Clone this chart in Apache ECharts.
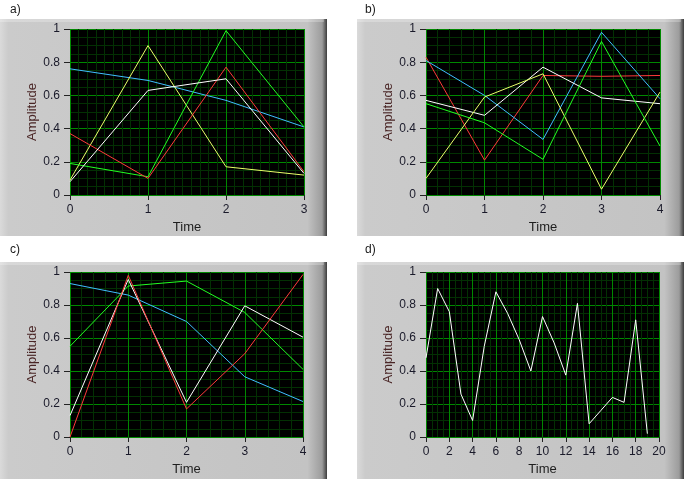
<!DOCTYPE html>
<html>
<head>
<meta charset="utf-8">
<script src="https://cdn.jsdelivr.net/npm/echarts@6/dist/echarts.min.js"></script>
<style>
	html, body { margin: 0; padding: 0; background: #fff; }
	#chart { width: 684px; height: 479px; }
</style>
</head>
<body>
<div id="chart"></div>
<script>
	// panel a) 4 points
	var timeA = [0, 1, 2, 3];
	var aBlue = [0.76, 0.69, 0.57, 0.41];
	var aYellow = [0.09, 0.9, 0.17, 0.12];
	var aGreen = [0.19, 0.11, 0.99, 0.41];
	var aRed = [0.37, 0.1, 0.77, 0.14];
	var aWhite = [0.08, 0.63, 0.7, 0.13];

	// panel b) 5 points
	var timeB = [0, 1, 2, 3, 4];
	var bRed = [0.83, 0.21, 0.72, 0.715, 0.72];
	var bBlue = [0.81, 0.6, 0.335, 0.98, 0.58];
	var bWhite = [0.57, 0.48, 0.77, 0.585, 0.55];
	var bYellow = [0.1, 0.59, 0.73, 0.035, 0.62];
	var bGreen = [0.55, 0.435, 0.215, 0.925, 0.295];

	// panel c) 5 points
	var timeC = [0, 1, 2, 3, 4];
	var cBlue = [0.93, 0.86, 0.7, 0.365, 0.215];
	var cGreen = [0.55, 0.915, 0.945, 0.755, 0.41];
	var cWhite = [0.13, 0.955, 0.21, 0.795, 0.605];
	var cRed = [0.0, 0.98, 0.17, 0.505, 0.985];

	// panel d) 20 points
	var timeD = [0, 1, 2, 3, 4, 5, 6, 7, 8, 9, 10, 11, 12, 13, 14, 15, 16, 17, 18, 19];
	var dWhite = [0.48, 0.9, 0.76, 0.26, 0.1, 0.55, 0.88, 0.75, 0.59, 0.4, 0.73, 0.57, 0.375, 0.81, 0.08, 0.16, 0.24, 0.21, 0.71, 0.02];

	var ampTicks = [0, 0.2, 0.4, 0.6, 0.8, 1];

	var colBlue = '#40bfff', colYellow = '#eaff6a', colGreen = '#22ff22', colRed = '#ff3a3a', colWhite = '#ffffff';
	var gridMajor = '#008800', gridMinor = '#033003';

	function pts(xs, ys) {
		return xs.map(function (x, i) { return [x, ys[i]]; });
	}

	var panels = [
		{ tag: 'a)', grid: { left: 70, top: 29, width: 234, height: 166 }, bez: [0, 19, 327, 217], lab: [10, 11], max: 3, step: 1, minor: 9,
			lines: [[aBlue, colBlue], [aYellow, colYellow], [aGreen, colGreen], [aRed, colRed], [aWhite, colWhite]], xs: timeA },
		{ tag: 'b)', grid: { left: 426, top: 29, width: 234, height: 166 }, bez: [357, 19, 327, 217], lab: [365, 11], max: 4, step: 1, minor: 5,
			lines: [[bRed, colRed], [bBlue, colBlue], [bWhite, colWhite], [bYellow, colYellow], [bGreen, colGreen]], xs: timeB },
		{ tag: 'c)', grid: { left: 70, top: 272, width: 233, height: 165 }, bez: [0, 262, 327, 217], lab: [10, 251], max: 4, step: 1, minor: 5,
			lines: [[cBlue, colBlue], [cGreen, colGreen], [cWhite, colWhite], [cRed, colRed]], xs: timeC },
		{ tag: 'd)', grid: { left: 426, top: 272, width: 233, height: 165 }, bez: [357, 262, 327, 217], lab: [365, 251], max: 20, step: 2, minor: 4,
			lines: [[dWhite, colWhite]], xs: timeD }
	];

	var font = 'Liberation Sans, Arial, sans-serif';
	var grids = [], xAxes = [], yAxes = [], series = [], graphics = [];

	panels.forEach(function (p, k) {
		// bezel
		graphics.push({
			type: 'rect', z: -10, silent: true,
			shape: { x: p.bez[0], y: p.bez[1], width: p.bez[2], height: p.bez[3] },
			style: {
				fill: new echarts.graphic.LinearGradient(0, 0, 1, 0, [
					{ offset: 0, color: '#dadada' },
					{ offset: 0.025, color: '#cbcbcb' },
					{ offset: 0.94, color: '#c3c3c3' },
					{ offset: 0.985, color: '#9c9c9c' },
					{ offset: 0.993, color: '#6a6a6a' },
					{ offset: 1, color: '#3c3c3c' }
				])
			}
		});
		graphics.push({
			type: 'rect', z: -9, silent: true,
			shape: { x: p.bez[0], y: p.bez[1], width: p.bez[2] - 3, height: 3 },
			style: { fill: 'rgba(255,255,255,0.25)' }
		});
		graphics.push({
			type: 'text', left: p.lab[0], top: p.lab[1] - 7, silent: true,
			style: { text: p.tag, fill: '#1a1a1a', font: '12px ' + font }
		});

		grids.push(Object.assign({ show: true, backgroundColor: '#000', borderWidth: 0 }, p.grid));

		xAxes.push({
			type: 'value', gridIndex: k, min: 0, max: p.max, interval: p.step,
			name: 'Time', nameLocation: 'middle', nameGap: 26,
			nameTextStyle: { color: '#1e1e1e', fontSize: 13, fontFamily: font },
			axisLine: { show: false },
			axisTick: { show: true, length: 5, lineStyle: { color: '#222' } },
			axisLabel: { color: '#1a1a2a', fontSize: 12, fontFamily: font, margin: 9 },
			splitLine: { show: true, lineStyle: { color: gridMajor, width: 1 } },
			minorTick: { show: false, splitNumber: p.minor },
			minorSplitLine: { show: true, lineStyle: { color: gridMinor, width: 1 } }
		});

		yAxes.push({
			type: 'value', gridIndex: k, min: ampTicks[0], max: ampTicks[ampTicks.length - 1], interval: 0.2,
			name: 'Amplitude', nameLocation: 'middle', nameGap: 27,
			nameTextStyle: { color: '#4a2626', fontSize: 13, fontFamily: font },
			axisLine: { show: false },
			axisTick: { show: true, length: 6, lineStyle: { color: '#222' } },
			axisLabel: { color: '#1a1a2a', fontSize: 12, fontFamily: font, margin: 10 },
			splitLine: { show: true, lineStyle: { color: gridMajor, width: 1 } },
			minorTick: { show: false, splitNumber: 4 },
			minorSplitLine: { show: true, lineStyle: { color: gridMinor, width: 1 } }
		});

		p.lines.forEach(function (ln) {
			series.push({
				type: 'line', xAxisIndex: k, yAxisIndex: k,
				data: pts(p.xs, ln[0]),
				showSymbol: false, symbol: 'none',
				lineStyle: { color: ln[1], width: 1 },
				clip: true, z: 5
			});
		});
	});

	var myChart = echarts.init(document.getElementById('chart'), null, { renderer: 'canvas' });
	myChart.setOption({
		animation: false,
		backgroundColor: '#fff',
		grid: grids,
		xAxis: xAxes,
		yAxis: yAxes,
		series: series,
		graphic: graphics
	});
</script>
</body>
</html>
